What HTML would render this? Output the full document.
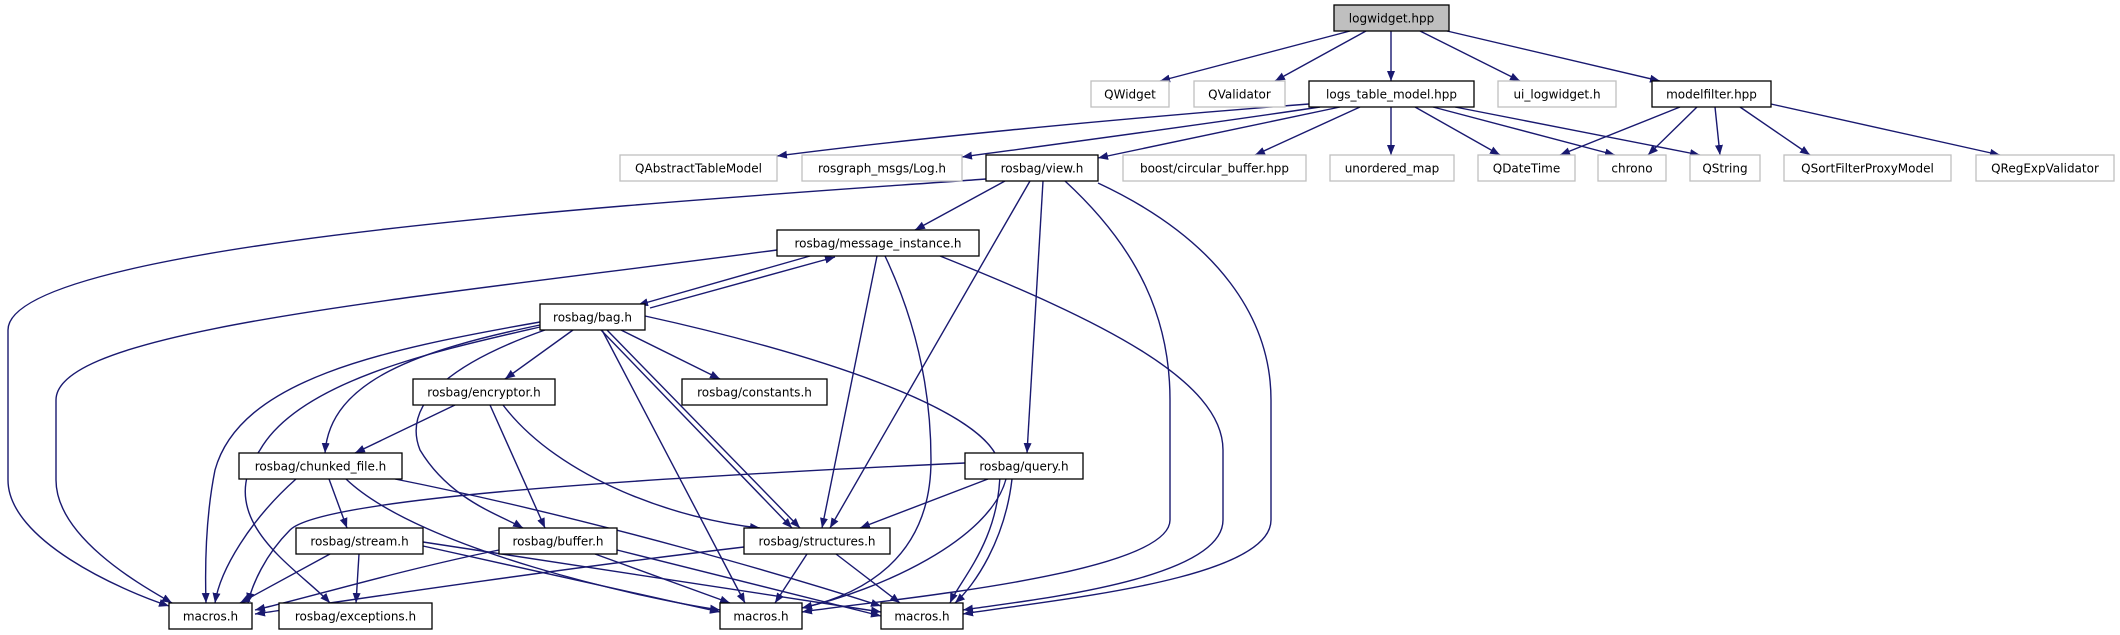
<!DOCTYPE html>
<html><head><meta charset="utf-8"><style>
html,body{margin:0;padding:0;background:#fff;}
svg{display:block;}
text{font-family:"DejaVu Sans","Liberation Sans",sans-serif;font-size:12px;fill:#000;}
.e{fill:none;stroke:#191970;stroke-width:1.4;}
.b{fill:#fff;stroke:#000;stroke-width:1.3;}
.g{fill:#fff;stroke:#bfbfbf;stroke-width:1.3;}
</style></head><body>
<svg width="2120" height="635" viewBox="0 0 2120 635" xmlns="http://www.w3.org/2000/svg">
<defs><marker id="a" markerUnits="userSpaceOnUse" markerWidth="11" markerHeight="9" refX="10" refY="4" orient="auto"><path d="M0,0 L10,4 L0,8 z" fill="#191970"/></marker></defs>
<g marker-end="url(#a)">
<!-- logwidget -->
<path class="e" d="M1350,31 L1160,81"/>
<path class="e" d="M1366,31 L1275,81"/>
<path class="e" d="M1391,31 L1391,81"/>
<path class="e" d="M1420,31 L1520,81"/>
<path class="e" d="M1447,31 L1660,81"/>
<!-- LTM -->
<path class="e" d="M1309,104 C1100,120 900,140 777,156"/>
<path class="e" d="M1320,107 C1200,125 1050,145 962,157"/>
<path class="e" d="M1340,107 L1098,158"/>
<path class="e" d="M1360,107 L1255,155"/>
<path class="e" d="M1391,107 L1391,155"/>
<path class="e" d="M1415,107 L1500,155"/>
<path class="e" d="M1433,107 L1615,155"/>
<path class="e" d="M1455,107 L1700,155"/>
<!-- modelfilter -->
<path class="e" d="M1680,107 L1560,155"/>
<path class="e" d="M1697,107 L1648,155"/>
<path class="e" d="M1715,107 L1720,155"/>
<path class="e" d="M1740,107 L1810,155"/>
<path class="e" d="M1771,104 L2000,155"/>
<!-- view -->
<path class="e" d="M986,179 C700,200 8,240 8,330 L8,480 C8,540 120,590 169,606"/>
<path class="e" d="M1005,181 L915,230"/>
<path class="e" d="M1030,181 L830,528"/>
<path class="e" d="M1043,181 L1027,453"/>
<path class="e" d="M1065,181 C1140,250 1170,320 1170,400 L1170,520 C1170,575 880,600 802,612"/>
<path class="e" d="M1098,183 C1220,240 1271,320 1271,400 L1271,520 C1271,580 1050,600 963,614"/>
<!-- msg -->
<path class="e" d="M777,250 C400,300 56,330 56,400 L56,480 C56,540 150,590 172,603"/>
<path class="e" d="M810,256 L638,305"/>
<path class="e" d="M650,308 L835,257"/>
<path class="e" d="M877,256 L822,528"/>
<path class="e" d="M885,256 C920,330 931,400 931,460 C931,560 860,595 802,608"/>
<path class="e" d="M940,256 C1100,320 1223,380 1223,450 L1223,520 C1223,580 1030,600 963,610"/>
<!-- bag -->
<path class="e" d="M540,322 C380,350 240,380 215,470 C205,520 205,570 206,603"/>
<path class="e" d="M540,325 C420,350 330,380 325,453"/>
<path class="e" d="M540,327 C440,350 300,380 260,450 C210,520 300,570 330,603"/>
<path class="e" d="M545,330 C460,360 400,400 420,450 C450,500 500,515 523,528"/>
<path class="e" d="M573,330 L505,379"/>
<path class="e" d="M621,330 L720,379"/>
<path class="e" d="M601,330 L792,528"/>
<path class="e" d="M607,330 L800,528"/>
<path class="e" d="M602,330 L745,603"/>
<path class="e" d="M645,316 C800,350 1000,410 1000,470 C1000,540 960,580 950,603"/>
<!-- encryptor -->
<path class="e" d="M455,405 L355,453"/>
<path class="e" d="M490,405 L545,528"/>
<path class="e" d="M503,405 C560,480 680,520 760,528"/>
<!-- chunked -->
<path class="e" d="M296,479 C250,520 220,570 215,603"/>
<path class="e" d="M329,479 L347,528"/>
<path class="e" d="M346,479 C420,550 650,600 720,610"/>
<path class="e" d="M395,479 C600,520 800,580 881,606"/>
<!-- query -->
<path class="e" d="M965,463 C600,480 320,500 290,530 C265,555 252,585 248,603"/>
<path class="e" d="M988,479 L860,528"/>
<path class="e" d="M1006,479 C990,540 880,590 802,608"/>
<path class="e" d="M1012,479 C1005,540 975,585 955,603"/>
<!-- stream -->
<path class="e" d="M330,554 L240,603"/>
<path class="e" d="M359,554 L356,603"/>
<path class="e" d="M423,546 L720,612"/>
<path class="e" d="M423,542 L881,612"/>
<!-- buffer -->
<path class="e" d="M499,550 C400,570 300,600 255,610"/>
<path class="e" d="M595,554 L730,603"/>
<path class="e" d="M617,550 L881,616"/>
<!-- structures -->
<path class="e" d="M744,547 C550,570 350,600 255,614"/>
<path class="e" d="M807,554 L775,603"/>
<path class="e" d="M836,554 L900,603"/>
</g>
<!-- nodes -->
<rect x="1334" y="5" width="115" height="26" fill="#bfbfbf" stroke="#000" stroke-width="1.3"/><text x="1391.5" y="22.5" text-anchor="middle">logwidget.hpp</text>
<rect class="g" x="1091" y="81" width="78" height="26"/><text x="1130" y="98.5" text-anchor="middle">QWidget</text>
<rect class="g" x="1194" y="81" width="91" height="26"/><text x="1239.5" y="98.5" text-anchor="middle">QValidator</text>
<rect class="b" x="1309" y="81" width="165" height="26"/><text x="1391.5" y="98.5" text-anchor="middle">logs_table_model.hpp</text>
<rect class="g" x="1498" y="81" width="118" height="26"/><text x="1557" y="98.5" text-anchor="middle">ui_logwidget.h</text>
<rect class="b" x="1652" y="81" width="119" height="26"/><text x="1711.5" y="98.5" text-anchor="middle">modelfilter.hpp</text>

<rect class="g" x="620" y="155" width="157" height="26"/><text x="698.5" y="172.5" text-anchor="middle">QAbstractTableModel</text>
<rect class="g" x="802" y="155" width="160" height="26"/><text x="882" y="172.5" text-anchor="middle">rosgraph_msgs/Log.h</text>
<rect class="b" x="986" y="155" width="112" height="26"/><text x="1042" y="172.5" text-anchor="middle">rosbag/view.h</text>
<rect class="g" x="1123" y="155" width="183" height="26"/><text x="1214.5" y="172.5" text-anchor="middle">boost/circular_buffer.hpp</text>
<rect class="g" x="1330" y="155" width="124" height="26"/><text x="1392" y="172.5" text-anchor="middle">unordered_map</text>
<rect class="g" x="1478" y="155" width="97" height="26"/><text x="1526.5" y="172.5" text-anchor="middle">QDateTime</text>
<rect class="g" x="1598" y="155" width="68" height="26"/><text x="1632" y="172.5" text-anchor="middle">chrono</text>
<rect class="g" x="1690" y="155" width="70" height="26"/><text x="1725" y="172.5" text-anchor="middle">QString</text>
<rect class="g" x="1784" y="155" width="167" height="26"/><text x="1867.5" y="172.5" text-anchor="middle">QSortFilterProxyModel</text>
<rect class="g" x="1976" y="155" width="138" height="26"/><text x="2045" y="172.5" text-anchor="middle">QRegExpValidator</text>

<rect class="b" x="777" y="230" width="202" height="26"/><text x="878" y="247.5" text-anchor="middle">rosbag/message_instance.h</text>
<rect class="b" x="540" y="304" width="105" height="26"/><text x="592.5" y="321.5" text-anchor="middle">rosbag/bag.h</text>
<rect class="b" x="413" y="379" width="142" height="26"/><text x="484" y="396.5" text-anchor="middle">rosbag/encryptor.h</text>
<rect class="b" x="682" y="379" width="145" height="26"/><text x="754.5" y="396.5" text-anchor="middle">rosbag/constants.h</text>
<rect class="b" x="239" y="453" width="163" height="26"/><text x="320.5" y="470.5" text-anchor="middle">rosbag/chunked_file.h</text>
<rect class="b" x="965" y="453" width="118" height="26"/><text x="1024" y="470.5" text-anchor="middle">rosbag/query.h</text>
<rect class="b" x="296" y="528" width="127" height="26"/><text x="359.5" y="545.5" text-anchor="middle">rosbag/stream.h</text>
<rect class="b" x="499" y="528" width="118" height="26"/><text x="558" y="545.5" text-anchor="middle">rosbag/buffer.h</text>
<rect class="b" x="744" y="528" width="146" height="26"/><text x="817" y="545.5" text-anchor="middle">rosbag/structures.h</text>
<rect class="b" x="169" y="603" width="83" height="26"/><text x="210.5" y="620.5" text-anchor="middle">macros.h</text>
<rect class="b" x="279" y="603" width="153" height="26"/><text x="355.5" y="620.5" text-anchor="middle">rosbag/exceptions.h</text>
<rect class="b" x="720" y="603" width="82" height="26"/><text x="761" y="620.5" text-anchor="middle">macros.h</text>
<rect class="b" x="881" y="603" width="82" height="26"/><text x="922" y="620.5" text-anchor="middle">macros.h</text>
</svg>
</body></html>
